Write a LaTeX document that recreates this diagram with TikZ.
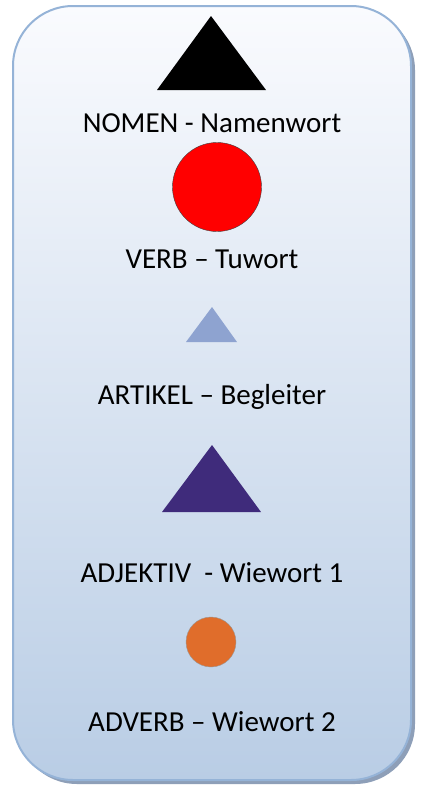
\documentclass[tikz,border=0pt]{standalone}
\usepackage{fontspec}
\setmainfont{Carlito}
\definecolor{framecol}{HTML}{95B3D7}
\definecolor{shadowcol}{HTML}{8E9FB8}
\definecolor{boxtop}{HTML}{FAFBFE}
\definecolor{boxbot}{HTML}{B9CDE5}
\definecolor{artikelcol}{HTML}{8EA3D0}
\definecolor{adjcol}{HTML}{3F2B7B}
\definecolor{adverbcol}{HTML}{E06D2B}
\begin{document}
\begin{tikzpicture}[x=1pt, y=-1pt,
    wordlabel/.style={font=\fontsize{29}{34}\selectfont, anchor=base, inner sep=0pt},
    symbol/.style={circle, inner sep=0pt}]
  \useasboundingbox (0,0) rectangle (423,785);
  % card with shadow
  \fill[shadowcol, rounded corners=60pt] (17,10) rectangle (415,784);
  \shade[top color=boxtop, bottom color=boxbot, draw=framecol, line width=2pt,
    rounded corners=60pt] (13,6) rectangle (411,780);
  % word class symbols
  \fill[black] (211,16) -- (266,90) -- (157,90) -- cycle;
  \node[symbol, fill=red, draw=black!75, minimum size=89pt] (verbsym) at (217,187) {};
  \fill[artikelcol] (212,307) -- (237,342) -- (186,342) -- cycle;
  \fill[adjcol] (212,445) -- (261,512) -- (162,512) -- cycle;
  \node[symbol, fill=adverbcol, draw=gray!80, minimum size=50pt] (adverbsym) at (211,642) {};
  % labels
  \foreach \name/\txt/\yy in {nomen/NOMEN - Namenwort/132, verb/VERB – Tuwort/268,
      artikel/ARTIKEL – Begleiter/404, adjektiv/ADJEKTIV\ \ - Wiewort 1/582,
      adverb/ADVERB – Wiewort 2/731}
    \node[wordlabel] (\name) at (212,\yy) {\txt};
\end{tikzpicture}
\end{document}
